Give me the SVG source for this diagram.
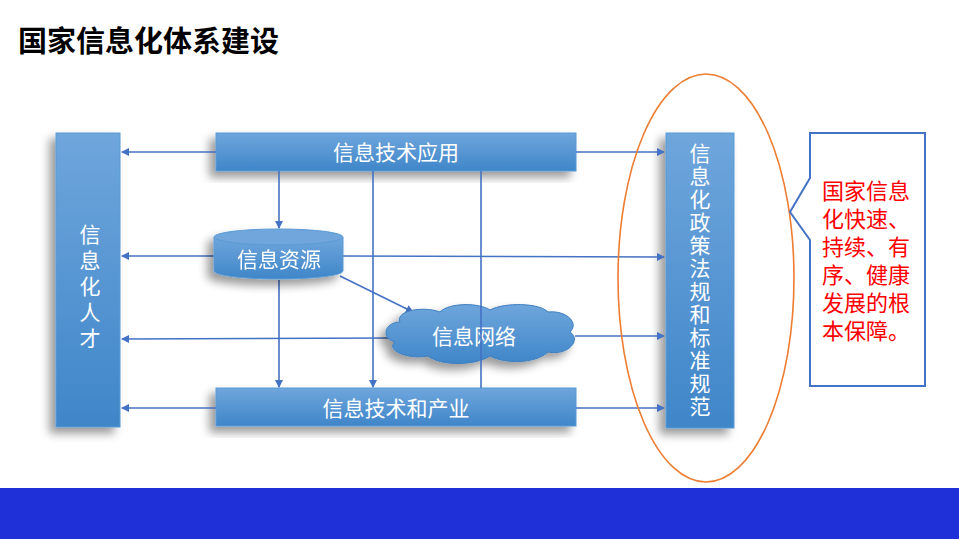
<svg xmlns="http://www.w3.org/2000/svg" width="959" height="539" viewBox="0 0 959 539">
<style>
.t{font-family:"Noto Sans CJK SC","Liberation Sans",sans-serif}
.w{fill:#fff;font-size:21px}
.c{stroke:#4472c4;stroke-width:1.6;fill:none}
</style>
<defs>
<linearGradient id="g" x1="0" y1="0" x2="0" y2="1"><stop offset="0" stop-color="#6fa6dc"/><stop offset="1" stop-color="#3f86c9"/></linearGradient>
<filter id="s" x="-30%" y="-30%" width="160%" height="160%"><feGaussianBlur in="SourceAlpha" stdDeviation="5"/><feOffset dx="-6" dy="6"/><feComponentTransfer><feFuncA type="linear" slope="0.4"/></feComponentTransfer><feMerge><feMergeNode/><feMergeNode in="SourceGraphic"/></feMerge></filter>
<marker id="a" markerWidth="8" markerHeight="8" refX="7" refY="4" orient="auto" markerUnits="userSpaceOnUse"><path d="M0,0 L8,4 L0,8 Z" fill="#4472c4"/></marker>
</defs>
<rect width="959" height="539" fill="#fff"/>
<text class="t" x="18" y="52" font-size="29" font-weight="bold" fill="#000">国家信息化体系建设</text>
<rect x="0" y="488" width="959" height="51" fill="#1f30d8"/>
<g id="left"><rect x="56" y="133" width="64" height="294" fill="url(#g)" stroke="#5b9bd5" filter="url(#s)"/>
<text class="t w" font-size="22" text-anchor="middle"><tspan x="90" y="242">信</tspan><tspan x="90" y="268">息</tspan><tspan x="90" y="294">化</tspan><tspan x="90" y="320">人</tspan><tspan x="90" y="346">才</tspan></text></g>
<g id="top"><rect x="216" y="133" width="360" height="38" fill="url(#g)" stroke="#5b9bd5" filter="url(#s)"/><text class="t w" x="396" y="160" font-size="22" text-anchor="middle">信息技术应用</text></g>
<g id="bottom"><rect x="216" y="388" width="360" height="38" fill="url(#g)" stroke="#5b9bd5" filter="url(#s)"/><text class="t w" x="396" y="416" font-size="22" text-anchor="middle">信息技术和产业</text></g>
<g id="right"><rect x="666" y="133" width="68" height="295" fill="url(#g)" stroke="#5b9bd5" filter="url(#s)"/>
<text class="t w" font-size="20" text-anchor="middle"><tspan x="700" y="161">信</tspan><tspan x="700" y="184">息</tspan><tspan x="700" y="207">化</tspan><tspan x="700" y="230">政</tspan><tspan x="700" y="253">策</tspan><tspan x="700" y="276">法</tspan><tspan x="700" y="299">规</tspan><tspan x="700" y="322">和</tspan><tspan x="700" y="345">标</tspan><tspan x="700" y="368">准</tspan><tspan x="700" y="391">规</tspan><tspan x="700" y="414">范</tspan></text></g>
<g id="connectors">
<path class="c" d="M216,152H122" marker-end="url(#a)"/>
<path class="c" d="M576,152H664" marker-end="url(#a)"/>
<path class="c" d="M214,256H122" marker-end="url(#a)"/>
<path class="c" d="M343,256L664,257" marker-end="url(#a)"/>
<path class="c" d="M390,338L122,339" marker-end="url(#a)"/>
<path class="c" d="M575,336H664" marker-end="url(#a)"/>
<path class="c" d="M216,408H122" marker-end="url(#a)"/>
<path class="c" d="M576,408H664" marker-end="url(#a)"/>
<path class="c" d="M279,171V228" marker-end="url(#a)"/>
<path class="c" d="M279,280V387" marker-end="url(#a)"/>
<path class="c" d="M373,171V387" marker-end="url(#a)"/>
<path class="c" d="M340,276L413,312" marker-end="url(#a)"/>
</g>
<g id="resource" filter="url(#s)"><path d="M214,237V271A64.5,8 0 0 0 343,271V237Z" fill="url(#g)" stroke="#5b9bd5"/><ellipse cx="278.5" cy="237" rx="64.5" ry="8" fill="#6fa6dc" stroke="#5b9bd5"/><text class="t w" x="279" y="267" font-size="22" text-anchor="middle">信息资源</text></g>
<g id="network"><path d="M400,322C395,310 425,306 440,312C450,302 480,303 490,310C505,302 540,303 548,312C565,310 580,322 570,332C582,340 568,356 548,352C535,364 505,364 490,356C475,366 440,366 428,356C408,360 385,350 395,342C380,338 385,322 400,322Z" fill="url(#g)" stroke="#3f7fc0" filter="url(#s)"/><text class="t w" x="474" y="344" font-size="22" text-anchor="middle">信息网络</text></g>
<path class="c" d="M481,171V388"/>
<g id="ellipse"><ellipse cx="706" cy="278" rx="88" ry="204" fill="none" stroke="#ed7d31" stroke-width="1.6"/></g>
<g id="callout"><path d="M810,133H925V386H810V240L790,212L810,178Z" fill="#fff" stroke="#4472c4" stroke-width="2"/>
<text class="t" font-size="22" fill="#ff0000"><tspan x="822" y="199">国家信息</tspan><tspan x="822" y="227">化快速、</tspan><tspan x="822" y="255">持续、有</tspan><tspan x="822" y="283">序、健康</tspan><tspan x="822" y="311">发展的根</tspan><tspan x="822" y="339">本保障。</tspan></text></g>
</svg>
